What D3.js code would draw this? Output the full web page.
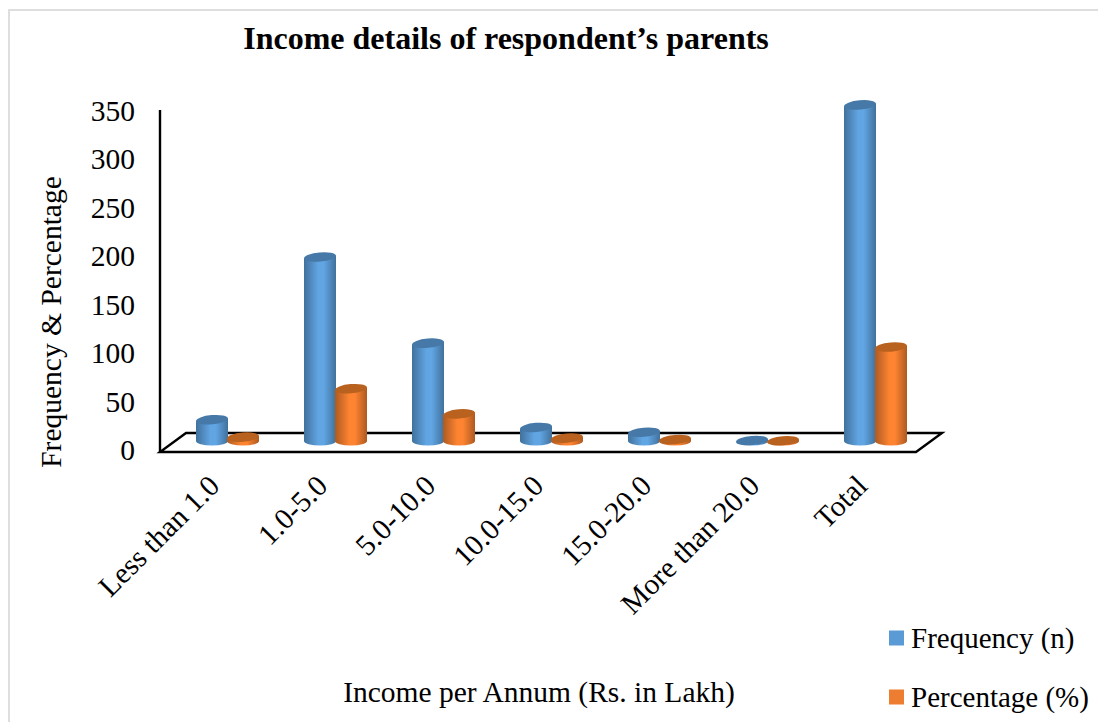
<!DOCTYPE html>
<html><head><meta charset="utf-8">
<script src="https://cdn.jsdelivr.net/npm/d3@7"></script>
<style>html,body{margin:0;padding:0;background:#fff}svg{display:block}text{font-family:"Liberation Serif",serif;fill:#000}</style>
</head><body><div id="chart"></div>
<script>
const categories = ["Less than 1.0","1.0-5.0","5.0-10.0","10.0-15.0","15.0-20.0","More than 20.0","Total"];
const seriesNames = ["Frequency (n)","Percentage (%)"];
const frequency = [22,190,101,14,9,0.5,347];
const percentage = [4,54,28,3,1.5,0.3,97];
const yTicks = [0,50,100,150,200,250,300,350];

const W=1098,H=722;
const svg=d3.select("#chart").append("svg").attr("width",W).attr("height",H);
const defs=svg.append("defs");
const palette=[
 {id:"gradA",edge:"#41719c",mid:"#61a5e3",top:"#4679a8"},
 {id:"gradB",edge:"#ae5a21",mid:"#fe8431",top:"#b9611f"}];
palette.forEach(p=>{
  const g=defs.append("linearGradient").attr("id",p.id).attr("x1","0").attr("x2","1").attr("y1","0").attr("y2","0");
  [[0,p.edge],[0.45,p.mid],[0.62,p.mid],[1,p.edge]].forEach(s=>g.append("stop").attr("offset",s[0]).attr("stop-color",s[1]));
});

// frame
svg.append("path").attr("d","M9,722V10H1098").attr("fill","none").attr("stroke","#dedede").attr("stroke-width",2);

const x=d3.scaleBand().domain(categories).range([173.5,929.5]);
const xInner=d3.scaleBand().domain(seriesNames).range([-31,31]);
const y=d3.scaleLinear().domain([0,350]).range([449,110]);
const baseShift=-8, ry=4.6, barW=32;

// floor
const floorPts=[[160,452],[916,452],[942,433],[186,433]];
svg.append("path").attr("d",d3.line()(floorPts)+"Z").attr("fill","none").attr("stroke","#000").attr("stroke-width",2.4);

// y axis
const axisG=svg.append("g").attr("transform","translate(160,1)")
  .call(d3.axisLeft(y).tickValues(yTicks).tickSize(0).tickPadding(25).tickFormat(d3.format("d")));
axisG.select(".domain").remove();
axisG.selectAll("text").attr("font-size",29.5).style("font-family",'"Liberation Serif",serif').attr("fill","#000");
svg.append("line").attr("x1",160).attr("x2",160).attr("y1",y(350)).attr("y2",452).attr("stroke","#000").attr("stroke-width",2.4);

// cylinders
const data=[frequency,percentage];
seriesNames.forEach((s,si)=>{
  const p=palette[si];
  const g=svg.append("g");
  categories.forEach((c,i)=>{
    const v=data[si][i];
    const cx=x(c)+x.bandwidth()/2+xInner(s)+xInner.bandwidth()/2;
    const yb=y(0)+baseShift, yt=y(v)+baseShift, rx=barW/2;
    g.append("path")
      .attr("d",`M${cx-rx},${yt+1.4}L${cx-rx},${yb}A${rx},${ry} 0 0 0 ${cx+rx},${yb}L${cx+rx},${yt-1.4}Z`)
      .attr("fill",`url(#${p.id})`);
    g.append("ellipse").attr("cx",cx).attr("cy",yt).attr("rx",rx).attr("ry",ry)
      .attr("transform",`rotate(-5 ${cx} ${yt})`).attr("fill",p.top);
  });
});

// category labels
categories.forEach(c=>{
  const px=x(c)+x.bandwidth()/2-21, py=473;
  svg.append("text").attr("transform",`translate(${px},${py}) rotate(-45)`)
    .attr("text-anchor","end").attr("dy","0.7em").attr("font-size",29.5).text(c);
});

svg.append("text").attr("x",506).attr("y",49).attr("text-anchor","middle")
  .attr("font-size",32).attr("font-weight","bold").text("Income details of respondent\u2019s parents");
svg.append("text").attr("transform","translate(61,322) rotate(-90)").attr("text-anchor","middle")
  .attr("font-size",29.5).text("Frequency & Percentage");
svg.append("text").attr("x",539).attr("y",702).attr("text-anchor","middle")
  .attr("font-size",29.5).text("Income per Annum (Rs. in Lakh)");

// legend
const legendColors=["#5b9bd5","#ed7d31"], legendY=[638,697];
seriesNames.forEach((s,i)=>{
  svg.append("rect").attr("x",889).attr("y",legendY[i]-7.5).attr("width",15).attr("height",15).attr("fill",legendColors[i]);
  svg.append("text").attr("x",911).attr("y",legendY[i]+10).attr("font-size",29).text(s);
});
</script></body></html>
